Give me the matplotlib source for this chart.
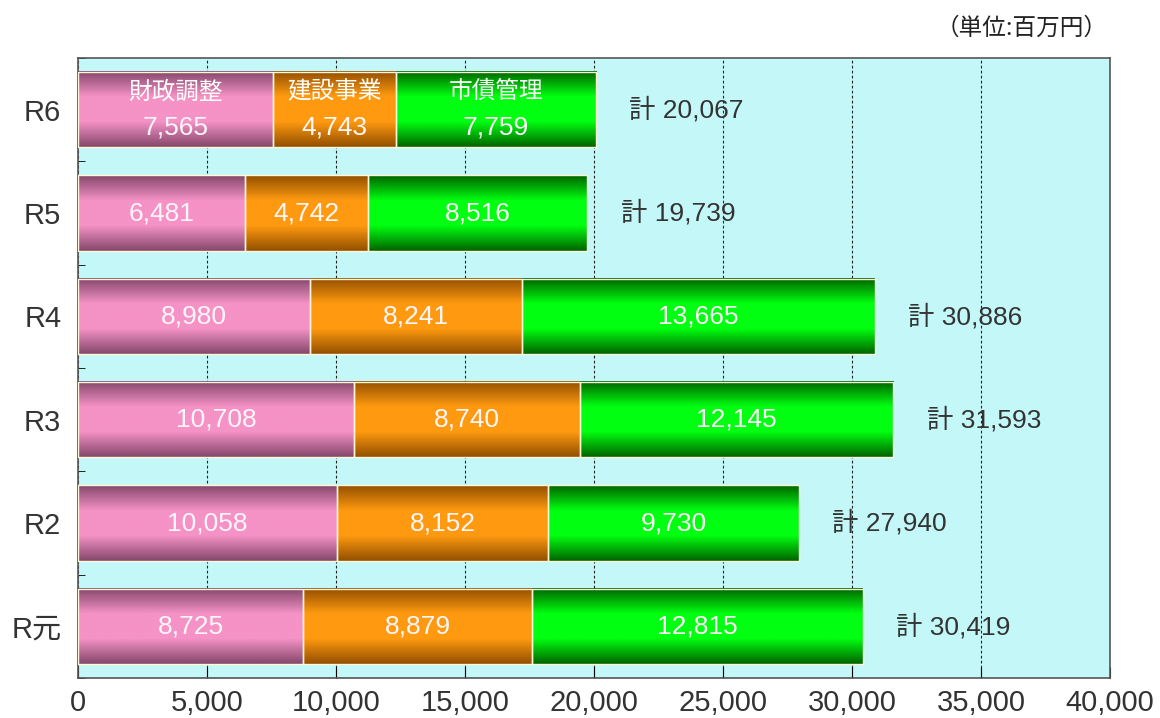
import numpy as np
import matplotlib.pyplot as plt
from matplotlib.colors import LinearSegmentedColormap

plt.rcParams['font.family'] = ['Liberation Sans', 'Noto Sans CJK JP', 'DejaVu Sans']

years = ['R6', 'R5', 'R4', 'R3', 'R2', 'R元']
zaisei = [7565, 6481, 8980, 10708, 10058, 8725]
kensetsu = [4743, 4742, 8241, 8740, 8152, 8879]
shisai = [7759, 8516, 13665, 12145, 9730, 12815]
names = ['財政調整', '建設事業', '市債管理']

series = [zaisei, kensetsu, shisai]
# (edge colour, middle colour) for the cylinder look
shades = [('#86486c', '#f592c6'), ('#945000', '#ff9a10'), ('#006600', '#00ff10')]

fig = plt.figure(figsize=(11.6, 7.18), dpi=100)
ax = fig.add_axes([0.0672, 0.0557, 0.8897, 0.8635])
ax.set_facecolor('#c4f8f8')

h = 0.73
y = np.arange(len(years))
grad = np.linspace(0, 1, 64).reshape(-1, 1)

left = np.zeros(len(years))
for s, (dark, light) in zip(series, shades):
    cmap = LinearSegmentedColormap.from_list('c', [dark, light, light, dark])
    for i, v in enumerate(s):
        ax.imshow(grad, cmap=cmap, aspect='auto', zorder=2,
                  extent=(left[i], left[i] + v, y[i] + h / 2, y[i] - h / 2))
        ax.text(left[i] + v / 2, y[i] + (0.17 if i == 0 else 0), f'{v:,}',
                ha='center', va='center', color='#fff6fa', fontsize=19, zorder=4)
    ax.barh(y, s, left=left, height=h, facecolor='none',
            edgecolor='#fff8d8', linewidth=1, zorder=3)
    left = left + np.array(s)

# category names inside the top row
left0 = 0
for s, nm in zip(series, names):
    ax.text(left0 + s[0] / 2, y[0] - 0.17, nm, ha='center', va='center',
            color='white', fontsize=17, zorder=4)
    left0 += s[0]

for i, tot in enumerate(left):
    ax.text(tot + 1300, y[i], f'計 {int(tot):,}', ha='left', va='center',
            color='#333333', fontsize=19, zorder=4)

ax.set_xlim(0, 40000)
ax.set_ylim(len(years) - 0.5, -0.5)
ax.set_xticks(np.arange(0, 40001, 5000))
ax.set_xticklabels([f'{t:,}' for t in range(0, 40001, 5000)], fontsize=21, color='#333333')
ax.set_yticks(y)
ax.set_yticklabels(years, fontsize=21, color='#333333')
ax.set_yticks(np.arange(-0.5, len(years), 1), minor=True)
ax.tick_params(axis='y', which='major', length=0, pad=12)
ax.tick_params(axis='y', which='minor', length=5, direction='in')
ax.tick_params(axis='x', length=8, direction='in', pad=8)
ax.grid(axis='x', linestyle=(0, (2.5, 2)), color='#222222', linewidth=0.8, zorder=1)
ax.set_axisbelow(True)
for sp in ax.spines.values():
    sp.set_color('#555555')
    sp.set_linewidth(1.2)

fig.text(0.955, 0.96, '（単位:百万円）', ha='right', va='center', fontsize=17,
         family=['Noto Sans CJK JP', 'DejaVu Sans'], color='#222222')

plt.savefig('out.png', dpi=100)
